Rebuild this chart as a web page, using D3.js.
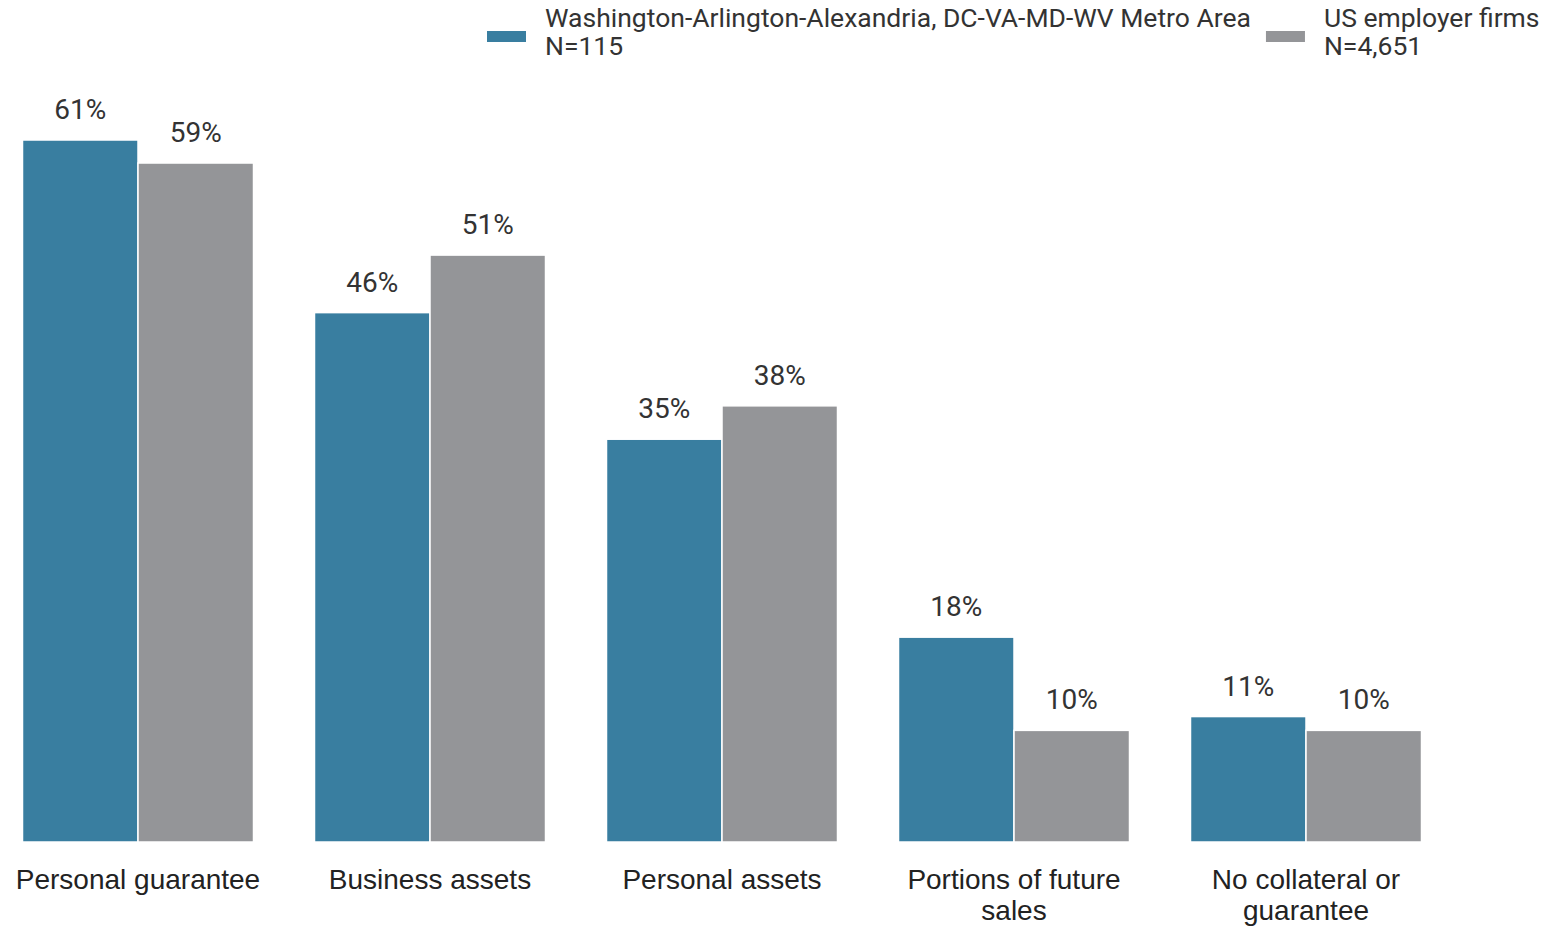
<!DOCTYPE html>
<html>
<head>
<meta charset="utf-8">
<script src="https://cdn.jsdelivr.net/npm/d3@7"></script>
<style>
  body { margin: 0; background: #fff; }
  svg { display: block; }
</style>
</head>
<body>
<div id="chart"></div>
<script>
var categories = [
  ["Personal guarantee"],
  ["Business assets"],
  ["Personal assets"],
  ["Portions of future", "sales"],
  ["No collateral or", "guarantee"]
];
var seriesNames = ["Washington-Arlington-Alexandria, DC-VA-MD-WV Metro Area", "US employer firms"];
var seriesN = ["N=115", "N=4,651"];
var metroValues = [61, 46, 35, 17.8, 10.9];
var usValues = [59, 51, 37.9, 9.7, 9.7];
var labelValues = [[61, 46, 35, 18, 11], [59, 51, 38, 10, 10]];
var colors = ["#397ea0", "#949598"];

var width = 1559, height = 927;

var svg = d3.select('#chart')
  .append('svg')
  .attr('width', width)
  .attr('height', height);

var x0 = d3.scaleBand()
  .domain(d3.range(categories.length))
  .range([-8, 1452])
  .paddingInner(61 / 292)
  .paddingOuter(61 / 292 / 2);

var x1 = d3.scaleBand()
  .domain([0, 1])
  .range([0, x0.bandwidth()]);

var y = d3.scaleLinear()
  .domain([0, 61])
  .range([842, 140]);

var data = categories.map(function(c, i) {
  return [metroValues[i], usValues[i]];
});

var groups = svg.selectAll('g.group')
  .data(data)
  .join('g')
  .attr('class', 'group')
  .attr('transform', function(d, i) { return 'translate(' + x0(i) + ',0)'; });

groups.selectAll('rect')
  .data(function(d) { return d; })
  .join('rect')
  .attr('x', function(d, j) { return x1(j); })
  .attr('y', function(d) { return y(d); })
  .attr('width', x1.bandwidth())
  .attr('height', function(d) { return y(0) - y(d); })
  .attr('fill', function(d, j) { return colors[j]; })
  .attr('stroke', '#fff')
  .attr('stroke-width', 1.5);

groups.selectAll('text.val')
  .data(function(d, i) { return d.map(function(v, j) { return {v: v, j: j, i: i}; }); })
  .join('text')
  .attr('class', 'val')
  .attr('x', function(d) { return x1(d.j) + x1.bandwidth() / 2; })
  .attr('y', function(d) { return y(d.v) - 21; })
  .attr('text-anchor', 'middle')
  .style('font-family', 'Roboto')
  .style('font-size', '28px')
  .style('fill', '#333')
  .text(function(d) { return labelValues[d.j][d.i] + '%'; });

// category labels
var catLabels = svg.selectAll('text.cat')
  .data(categories)
  .join('text')
  .attr('class', 'cat')
  .attr('x', function(d, i) { return x0(i) + x0.bandwidth() / 2; })
  .attr('y', 889)
  .attr('text-anchor', 'middle')
  .style('font-family', '"Liberation Sans", Arial, sans-serif')
  .style('font-size', '28px')
  .style('fill', '#222');

catLabels.selectAll('tspan')
  .data(function(d) { return d; })
  .join('tspan')
  .attr('x', function() { return this.parentNode.getAttribute('x'); })
  .attr('dy', function(d, k) { return k === 0 ? 0 : 31; })
  .text(function(d) { return d; });

// legend
var legend = svg.append('g').attr('transform', 'translate(487,0)');
var lx = 0;
seriesNames.forEach(function(name, j) {
  var item = legend.append('g').attr('transform', 'translate(' + lx + ',0)');
  item.append('rect')
    .attr('x', 0)
    .attr('y', 31)
    .attr('width', 39)
    .attr('height', 11)
    .attr('fill', colors[j]);
  var first = item.append('text')
    .attr('x', 58)
    .attr('y', 27)
    .style('font-family', 'Roboto')
    .style('font-size', '26.5px')
    .style('fill', '#333')
    .text(name);
  item.append('text')
    .attr('x', 58)
    .attr('y', 55)
    .style('font-family', 'Roboto')
    .style('font-size', '26.5px')
    .style('fill', '#333')
    .text(seriesN[j]);
  lx += 58 + first.node().getComputedTextLength() + 15;
});
</script>
</body>
</html>
